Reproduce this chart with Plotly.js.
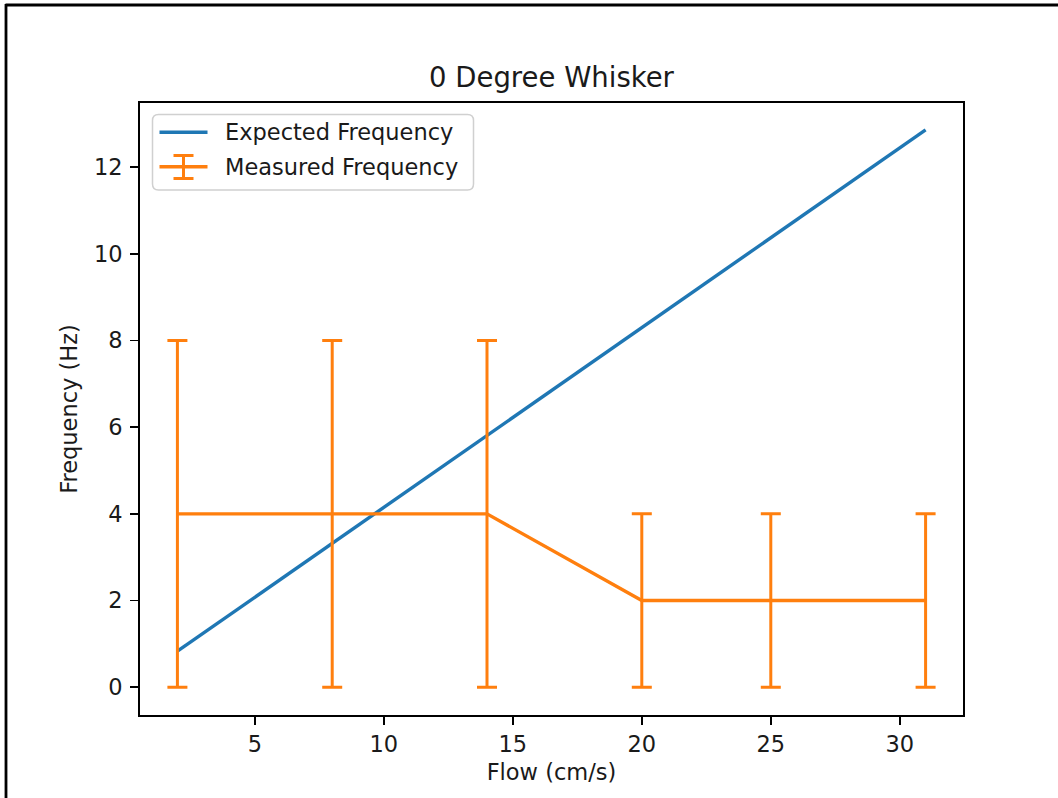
<!DOCTYPE html>
<html>
<head>
<meta charset="utf-8">
<script src="https://cdn.plot.ly/plotly-3.0.1.min.js"></script>
<style>
  html, body { margin: 0; padding: 0; background: #fff; }
  #chart { width: 1058px; height: 798px; }
</style>
</head>
<body>
<div id="chart"></div>
<script>
// Flow speeds (cm/s)
const flow = [2, 8, 14, 20, 25, 31];
// Expected shedding frequency (Hz)
const expectedFreq = [0.83, 3.32, 5.81, 8.30, 10.37, 12.86];
// Measured frequency (Hz) and its uncertainty
const measuredFreq = [4, 4, 4, 2, 2, 2];
const measuredErr = [4, 4, 4, 2, 2, 2];
const xTicks = [5, 10, 15, 20, 25, 30];
const yTicks = [0, 2, 4, 6, 8, 10, 12];

const seriesNames = ['Expected Frequency', 'Measured Frequency'];
const titleText = '0 Degree Whisker';
const xTitle = 'Flow (cm/s)';
const yTitle = 'Frequency (Hz)';

const BLUE = '#1f77b4';
const ORANGE = '#ff7f0e';
const TEXT = '#1a1a1a';
const FONT = 'DejaVu Sans, sans-serif';

const W = 1058, H = 798;
const M = { l: 140, r: 95, t: 103, b: 83 };
const plotW = W - M.l - M.r;
const plotH = H - M.t - M.b;
// pixel -> paper coordinates for decorations outside the data
const px = x => (x - M.l) / plotW;
const py = y => (H - M.b - y) / plotH;

const traces = [
  {
    x: flow, y: expectedFreq, type: 'scatter', mode: 'lines',
    name: seriesNames[0], showlegend: false,
    line: { color: BLUE, width: 3.4 }
  },
  {
    x: flow, y: measuredFreq, type: 'scatter', mode: 'lines',
    name: seriesNames[1], showlegend: false,
    line: { color: ORANGE, width: 3.4 },
    error_y: { type: 'data', array: measuredErr, visible: true,
               color: ORANGE, thickness: 3, width: 10 }
  }
];

// legend box drawn as a rounded path
function roundRect(x0, y0, x1, y1, r) {
  const X0 = px(x0), X1 = px(x1), Y0 = py(y0), Y1 = py(y1);
  const rx = r / plotW, ry = r / plotH;
  return `M ${X0 + rx} ${Y0} L ${X1 - rx} ${Y0} Q ${X1} ${Y0} ${X1} ${Y0 - ry} ` +
         `L ${X1} ${Y1 + ry} Q ${X1} ${Y1} ${X1 - rx} ${Y1} L ${X0 + rx} ${Y1} ` +
         `Q ${X0} ${Y1} ${X0} ${Y1 + ry} L ${X0} ${Y0 - ry} Q ${X0} ${Y0} ${X0 + rx} ${Y0} Z`;
}

const shapes = [
  // outer frame (top and left edges)
  { type: 'line', xref: 'paper', yref: 'paper', x0: px(5.5), x1: px(1060), y0: py(5), y1: py(5),
    line: { color: '#000', width: 2.8 } },
  { type: 'line', xref: 'paper', yref: 'paper', x0: px(6), x1: px(6), y0: py(4), y1: py(800),
    line: { color: '#000', width: 2.8 } },
  // legend frame
  { type: 'path', xref: 'paper', yref: 'paper', path: roundRect(152.5, 114.5, 473.5, 190, 6),
    fillcolor: 'rgba(255,255,255,0.8)', line: { color: '#d0d0d0', width: 1.5 } },
  // legend glyphs
  { type: 'line', xref: 'paper', yref: 'paper', x0: px(159.5), x1: px(207.5), y0: py(132.3), y1: py(132.3),
    line: { color: BLUE, width: 3.4 } },
  { type: 'line', xref: 'paper', yref: 'paper', x0: px(159.5), x1: px(207.5), y0: py(166.7), y1: py(166.7),
    line: { color: ORANGE, width: 3.4 } },
  { type: 'line', xref: 'paper', yref: 'paper', x0: px(183.5), x1: px(183.5), y0: py(155.5), y1: py(178.5),
    line: { color: ORANGE, width: 3 } },
  { type: 'line', xref: 'paper', yref: 'paper', x0: px(173.5), x1: px(193.5), y0: py(155.5), y1: py(155.5),
    line: { color: ORANGE, width: 3 } },
  { type: 'line', xref: 'paper', yref: 'paper', x0: px(173.5), x1: px(193.5), y0: py(178.5), y1: py(178.5),
    line: { color: ORANGE, width: 3 } }
];

const annotations = [
  { xref: 'paper', yref: 'paper', x: px(223), y: py(132.3), xanchor: 'left', yanchor: 'middle',
    text: seriesNames[0], showarrow: false, font: { family: FONT, size: 22.5, color: TEXT } },
  { xref: 'paper', yref: 'paper', x: px(223), y: py(166.7), xanchor: 'left', yanchor: 'middle',
    text: seriesNames[1], showarrow: false, font: { family: FONT, size: 22.5, color: TEXT } }
];

const axisCommon = {
  showgrid: false, zeroline: false,
  showline: true, mirror: true, linecolor: '#000', linewidth: 1.8,
  ticks: 'outside', ticklen: 8, tickwidth: 1.8, tickcolor: '#000',
  tickfont: { family: FONT, size: 22.5, color: TEXT }
};

const layout = {
  width: W, height: H,
  margin: M,
  paper_bgcolor: '#fff', plot_bgcolor: '#fff',
  font: { family: FONT, color: TEXT },
  title: { text: titleText, font: { family: FONT, size: 27.5, color: TEXT },
           xref: 'paper', x: 0.5, xanchor: 'center',
           yref: 'container', y: 1 - 77 / H, yanchor: 'middle' },
  xaxis: Object.assign({}, axisCommon, {
    range: [0.55, 32.45], tickmode: 'array', tickvals: xTicks,
    title: { text: xTitle, font: { family: FONT, size: 22.5, color: TEXT }, standoff: 8 }
  }),
  yaxis: Object.assign({}, axisCommon, {
    range: [-0.642, 13.48], tickmode: 'array', tickvals: yTicks,
    ticklabelstandoff: 3,
    title: { text: yTitle, font: { family: FONT, size: 22.5, color: TEXT }, standoff: 10 }
  }),
  shapes: shapes,
  annotations: annotations,
  showlegend: false
};

Plotly.newPlot('chart', traces, layout, { displayModeBar: false, staticPlot: true });
</script>
</body>
</html>
